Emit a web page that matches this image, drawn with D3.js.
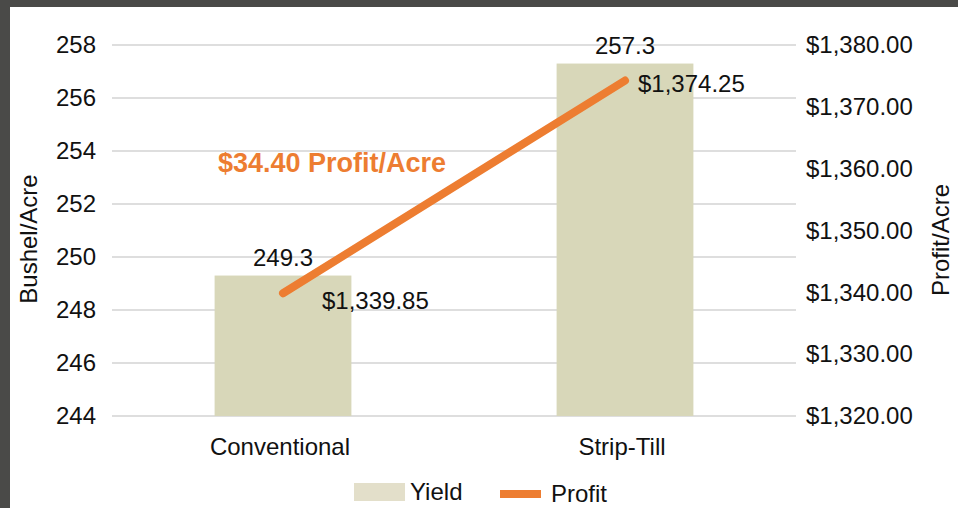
<!DOCTYPE html>
<html><head><meta charset="utf-8">
<script src="https://cdn.jsdelivr.net/npm/d3@7/dist/d3.min.js"></script>
<style>
html,body{margin:0;padding:0;background:#fff;}
svg{display:block;font-family:"Liberation Sans",Arial,Helvetica,sans-serif;}
</style></head>
<body>
<script>
const categories = ["Conventional", "Strip-Till"];
const yieldValues = [249.3, 257.3];
const profitValues = [1339.85, 1374.25];
const yieldTicks = [244, 246, 248, 250, 252, 254, 256, 258];
const profitTicks = [1320, 1330, 1340, 1350, 1360, 1370, 1380];
const yieldLabels = ["249.3", "257.3"];
const profitLabels = ["$1,339.85", "$1,374.25"];
const annotation = "$34.40 Profit/Acre";

const W = 958, H = 508;
const svg = d3.select("body").append("svg").attr("width", W).attr("height", H);

// frame border
svg.append("rect").attr("x",0).attr("y",0).attr("width",W).attr("height",7).attr("fill","#4a4a48");
svg.append("rect").attr("x",0).attr("y",0).attr("width",10).attr("height",H).attr("fill","#4a4a48");

const x = d3.scaleBand().domain(categories).range([112, 796]).paddingInner(0.6).paddingOuter(0.3);
const yL = d3.scaleLinear().domain([244, 258]).range([416, 45]);
const yR = d3.scaleLinear().domain([1320, 1380]).range([416, 45]);

const fs = 24;
const ink = "#111";
// gridlines
svg.append("g").selectAll("line").data(yieldTicks).join("line")
  .attr("x1",112).attr("x2",796)
  .attr("y1",d=>yL(d)).attr("y2",d=>yL(d))
  .attr("stroke","#dedede").attr("stroke-width",2);

// left axis
const axL = svg.append("g").attr("transform","translate(112,0)")
  .call(d3.axisLeft(yL).tickValues(yieldTicks).tickSize(0).tickPadding(16).tickFormat(d3.format("d")));
axL.select(".domain").remove();
axL.selectAll("text").attr("font-size",fs).attr("fill",ink).attr("font-family","Liberation Sans, Arial, sans-serif");

// right axis
const axR = svg.append("g").attr("transform","translate(796,0)")
  .call(d3.axisRight(yR).tickValues(profitTicks).tickSize(0).tickPadding(10).tickFormat(d=>"$"+d3.format(",.2f")(d)));
axR.select(".domain").remove();
axR.selectAll("text").attr("font-size",fs).attr("fill",ink).attr("font-family","Liberation Sans, Arial, sans-serif");

// bars
svg.append("g").selectAll("rect").data(categories).join("rect")
  .attr("x",d=>x(d)).attr("width",x.bandwidth())
  .attr("y",(d,i)=>yL(yieldValues[i])).attr("height",(d,i)=>yL(244)-yL(yieldValues[i]))
  .attr("fill","#d8d7b9");

// category labels
svg.append("g").selectAll("text").data(categories).join("text")
  .attr("x",d=>x(d)+x.bandwidth()/2-3).attr("y",455)
  .attr("text-anchor","middle").attr("font-size",fs).attr("fill",ink).text(d=>d);

// bar value labels
svg.append("g").selectAll("text").data(yieldLabels).join("text")
  .attr("x",(d,i)=>x(categories[i])+x.bandwidth()/2)
  .attr("y",(d,i)=>yL(yieldValues[i])-10)
  .attr("text-anchor","middle").attr("font-size",fs).attr("fill",ink).text(d=>d);

// profit line
const line = d3.line().x((d,i)=>x(categories[i])+x.bandwidth()/2).y(d=>yR(d));
svg.append("path").datum(profitValues).attr("d",line)
  .attr("fill","none").attr("stroke","#ed7d31").attr("stroke-width",8).attr("stroke-linecap","round");

// profit labels
const profitLabelDx = [39, 13];
const profitLabelDy = [16, 11];
svg.append("g").selectAll("text").data(profitLabels).join("text")
  .attr("x",(d,i)=>x(categories[i])+x.bandwidth()/2+profitLabelDx[i])
  .attr("y",(d,i)=>yR(profitValues[i])+profitLabelDy[i])
  .attr("font-size",fs).attr("fill",ink).text(d=>d);

// annotation
svg.append("text").attr("x",218).attr("y",172).attr("font-size",27).attr("font-weight","bold")
  .attr("fill","#ed7d31").text(annotation);

// axis titles
svg.append("text").attr("transform","translate(37,239) rotate(-90)").attr("text-anchor","middle")
  .attr("font-size",fs).attr("fill",ink).text("Bushel/Acre");
svg.append("text").attr("transform","translate(949,240) rotate(-90)").attr("text-anchor","middle")
  .attr("font-size",fs).attr("fill",ink).text("Profit/Acre");

// legend
const lg = svg.append("g");
lg.append("rect").attr("x",354).attr("y",483).attr("width",51).attr("height",18).attr("fill","#e3dfca");
lg.append("text").attr("x",410).attr("y",500).attr("font-size",fs).attr("fill",ink).text("Yield");
lg.append("rect").attr("x",500).attr("y",490).attr("width",41).attr("height",8).attr("fill","#ed7d31");
lg.append("text").attr("x",551).attr("y",502).attr("font-size",fs).attr("fill",ink).text("Profit");
</script>
</body></html>
